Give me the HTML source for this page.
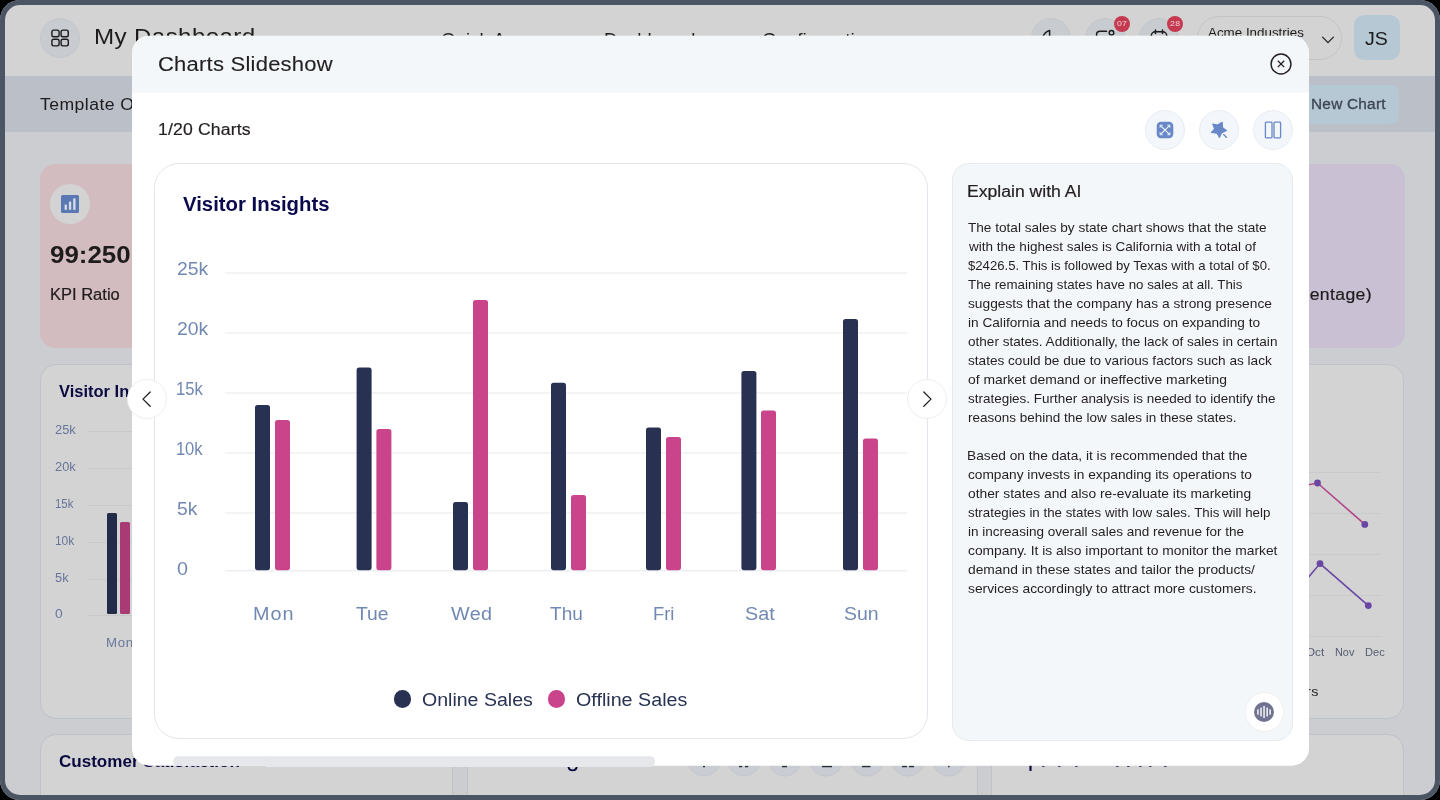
<!DOCTYPE html>
<html lang="en"><head><meta charset="utf-8"><title>Charts Slideshow</title>
<style>
html,body{margin:0;padding:0;background:#000;}
body{width:1440px;height:800px;overflow:hidden;position:relative;font-family:"Liberation Sans", sans-serif;}
#page{position:absolute;left:0;top:0;width:1440px;height:800px;overflow:hidden;background:#cbcdd1;will-change:transform;}
.b{position:absolute;display:block;}
.t{position:absolute;display:block;white-space:nowrap;line-height:1;transform-origin:0 0;font-family:"Liberation Sans", sans-serif;}
#bgclip{position:absolute;left:0;top:0;width:1440px;height:800px;overflow:hidden;}
#frame{position:absolute;left:0;top:0;width:1440px;height:800px;box-sizing:border-box;border:5px solid #4b5563;border-radius:20px;box-shadow:0 0 0 30px #000;pointer-events:none;}
</style></head>
<body>
<div id="page">
<div id="bgclip">
<div class="b" style="left:0px;top:0px;width:1440px;height:76px;background:#d3d3d3;"></div>
<div class="b" style="left:0px;top:76px;width:1440px;height:56px;background:#babfc8;"></div>
<div class="b" style="left:40px;top:18px;width:40px;height:40px;background:#c8ccd1;border-radius:20px;border:1px solid #c3c7cc;box-sizing:border-box;"></div>
<svg class="b" style="left:50px;top:28px" width="20" height="20" viewBox="0 0 20 20" fill="none" stroke="#1e1b1c" stroke-width="1.4"><rect x="1.9" y="2.1" width="7.2" height="6.6" rx="1.8"/><rect x="11.1" y="2.1" width="7.2" height="6.6" rx="1.8"/><rect x="1.9" y="11.3" width="7.2" height="6.6" rx="1.8"/><rect x="11.1" y="11.3" width="7.2" height="6.6" rx="1.8"/></svg>
<div class="b" style="left:1031px;top:18px;width:40px;height:40px;background:#c8ccd1;border-radius:20px;border:1px solid #c3c7cc;box-sizing:border-box;"></div>
<div class="b" style="left:1085px;top:18px;width:40px;height:40px;background:#c8ccd1;border-radius:20px;border:1px solid #c3c7cc;box-sizing:border-box;"></div>
<div class="b" style="left:1139px;top:18px;width:40px;height:40px;background:#c8ccd1;border-radius:20px;border:1px solid #c3c7cc;box-sizing:border-box;"></div>
<svg class="b" style="left:1031px;top:18px" width="40" height="40" viewBox="0 0 40 40" fill="none" stroke="#1e1b1c" stroke-width="1.5" stroke-linecap="round" stroke-linejoin="round"><path d="M11.5 19.5 C13 15.5 16 13 18.6 12.4 L18.6 26"/></svg>
<svg class="b" style="left:1085px;top:18px" width="40" height="40" viewBox="0 0 40 40" fill="none" stroke="#1e1b1c" stroke-width="1.5" stroke-linecap="round" stroke-linejoin="round"><path d="M21.5 13.2 H15 Q11.6 13.2 11.6 16.6 V24 Q11.6 27 15 27 H25 Q28.4 27 28.4 24 V20"/><circle cx="26.5" cy="14.7" r="2.3"/></svg>
<svg class="b" style="left:1139px;top:18px" width="40" height="40" viewBox="0 0 40 40" fill="none" stroke="#1e1b1c" stroke-width="1.5" stroke-linecap="round" stroke-linejoin="round"><rect x="12.3" y="13.8" width="15.4" height="14.5" rx="4"/><path d="M16.5 12 V15.6 M23.5 12 V15.6"/></svg>
<div class="b" style="left:1114px;top:16px;width:16px;height:16px;background:#c53a50;border-radius:8px;"></div>
<div class="b" style="left:1167px;top:16px;width:16px;height:16px;background:#c53a50;border-radius:8px;"></div>
<div class="b" style="left:1197px;top:16px;width:145px;height:44px;background:transparent;border-radius:22px;border:1px solid #c2c4c7;box-sizing:border-box;"></div>
<svg class="b" style="left:1320px;top:34px" width="16" height="12" viewBox="0 0 16 12" fill="none" stroke="#1e1b1c" stroke-width="1.2" stroke-linecap="round" stroke-linejoin="round"><path d="M2.6 3.2 L8 8.6 L13.4 3.2"/></svg>
<div class="b" style="left:1354px;top:15px;width:46px;height:45px;background:#b5c8d3;border-radius:10px;"></div>
<div class="b" style="left:1250px;top:85px;width:149px;height:39px;background:#b5c8d3;border-radius:8px;"></div>
<div class="b" style="left:40px;top:164px;width:300px;height:184px;background:#d3bcbf;border-radius:15px;"></div>
<div class="b" style="left:50px;top:184px;width:40px;height:40px;background:#d3d3d3;border-radius:20px;"></div>
<svg class="b" style="left:61px;top:195px" width="18" height="18" viewBox="0 0 18 18"><rect width="18" height="18" rx="1.6" fill="#5a78b4"/><rect x="3.6" y="9.6" width="2.3" height="5.2" fill="#d9dde6"/><rect x="7.9" y="6.6" width="2.3" height="8.2" fill="#d9dde6"/><rect x="12.2" y="3.4" width="2.3" height="11.4" fill="#d9dde6"/></svg>
<div class="b" style="left:1104px;top:164px;width:300.5px;height:184px;background:#c9c0d4;border-radius:15px;"></div>
<div class="b" style="left:40px;top:364px;width:413px;height:355px;background:#d3d3d3;border-radius:16px;border:1px solid #bec2c9;box-sizing:border-box;"></div>
<div class="b" style="left:991px;top:364px;width:413px;height:355px;background:#d3d3d3;border-radius:16px;border:1px solid #bec2c9;box-sizing:border-box;"></div>
<div class="b" style="left:40px;top:734px;width:413px;height:100px;background:#d3d3d3;border-radius:16px;border:1px solid #bec2c9;box-sizing:border-box;"></div>
<div class="b" style="left:466.5px;top:734px;width:511.5px;height:100px;background:#d3d3d3;border-radius:16px;border:1px solid #bec2c9;box-sizing:border-box;"></div>
<div class="b" style="left:991px;top:734px;width:413px;height:100px;background:#d3d3d3;border-radius:16px;border:1px solid #bec2c9;box-sizing:border-box;"></div>
<div class="b" style="left:87px;top:430.8px;width:60px;height:1px;background:#c6c8cb;"></div>
<div class="b" style="left:87px;top:467.8px;width:60px;height:1px;background:#c6c8cb;"></div>
<div class="b" style="left:87px;top:504.8px;width:60px;height:1px;background:#c6c8cb;"></div>
<div class="b" style="left:87px;top:541.8px;width:60px;height:1px;background:#c6c8cb;"></div>
<div class="b" style="left:87px;top:578.8px;width:60px;height:1px;background:#c6c8cb;"></div>
<div class="b" style="left:87px;top:614.7px;width:60px;height:1px;background:#c6c8cb;"></div>
<div class="b" style="left:107px;top:513px;width:10px;height:101.3px;background:#222b47;border-radius:1.5px;"></div>
<div class="b" style="left:120px;top:522px;width:10px;height:92.3px;background:#a83a76;border-radius:1.5px;"></div>
<svg class="b" style="left:1290px;top:440px" width="120" height="220" viewBox="1290 440 120 220" fill="none"><path d="M1290 472.5 H1381" stroke="#c9cacd" stroke-width="1"/><path d="M1290 513.5 H1381" stroke="#c9cacd" stroke-width="1"/><path d="M1290 554.5 H1381" stroke="#c9cacd" stroke-width="1"/><path d="M1290 595.5 H1381" stroke="#c9cacd" stroke-width="1"/><path d="M1290 636.5 H1381" stroke="#c9cacd" stroke-width="1"/><path d="M1290 488.5 L1317.5 483 L1364.8 524.4" stroke="#b04688" stroke-width="1.6"/><path d="M1296 592 L1320 563.6 L1368.3 605.6" stroke="#6a46a3" stroke-width="1.6"/><circle cx="1317.5" cy="483" r="3.4" fill="#6a46a3"/><circle cx="1364.8" cy="524.4" r="3.4" fill="#6a46a3"/><circle cx="1320" cy="563.6" r="3.4" fill="#6a46a3"/><circle cx="1368.3" cy="605.6" r="3.4" fill="#6a46a3"/></svg>
<svg class="b" style="left:686px;top:742px" width="36" height="36" viewBox="0 0 36 36"><circle cx="18" cy="17.75" r="16.4" fill="#c9ccd2" stroke="#c1c4ca" stroke-width="0.8"/></svg>
<svg class="b" style="left:726px;top:742px" width="36" height="36" viewBox="0 0 36 36"><circle cx="18" cy="17.75" r="16.4" fill="#c9ccd2" stroke="#c1c4ca" stroke-width="0.8"/></svg>
<svg class="b" style="left:766.8px;top:742px" width="36" height="36" viewBox="0 0 36 36"><circle cx="18" cy="17.75" r="16.4" fill="#c9ccd2" stroke="#c1c4ca" stroke-width="0.8"/></svg>
<svg class="b" style="left:807.8px;top:742px" width="36" height="36" viewBox="0 0 36 36"><circle cx="18" cy="17.75" r="16.4" fill="#c9ccd2" stroke="#c1c4ca" stroke-width="0.8"/></svg>
<svg class="b" style="left:848.9px;top:742px" width="36" height="36" viewBox="0 0 36 36"><circle cx="18" cy="17.75" r="16.4" fill="#c9ccd2" stroke="#c1c4ca" stroke-width="0.8"/></svg>
<svg class="b" style="left:889.7px;top:742px" width="36" height="36" viewBox="0 0 36 36"><circle cx="18" cy="17.75" r="16.4" fill="#c9ccd2" stroke="#c1c4ca" stroke-width="0.8"/></svg>
<svg class="b" style="left:930.75px;top:742px" width="36" height="36" viewBox="0 0 36 36"><circle cx="18" cy="17.75" r="16.4" fill="#c9ccd2" stroke="#c1c4ca" stroke-width="0.8"/></svg>
<svg class="b" style="left:703px;top:765px" width="3" height="3" viewBox="0 0 3 3"><rect x="0" y="0.6" width="2" height="1.7" rx="0.5" fill="#2b2b38"/></svg>
<svg class="b" style="left:738.5px;top:765px" width="4.2" height="3" viewBox="0 0 4.2 3"><rect x="0" y="0.6" width="3.2" height="1.7" rx="0.5" fill="#2b2b38"/></svg>
<svg class="b" style="left:744.6px;top:765px" width="4.2" height="3" viewBox="0 0 4.2 3"><rect x="0" y="0.6" width="3.2" height="1.7" rx="0.5" fill="#2b2b38"/></svg>
<svg class="b" style="left:781.5px;top:765px" width="6" height="3" viewBox="0 0 6 3"><rect x="0" y="0.6" width="5" height="1.7" rx="0.5" fill="#2b2b38"/></svg>
<svg class="b" style="left:821.5px;top:765px" width="11" height="3" viewBox="0 0 11 3"><rect x="0" y="0.6" width="10" height="1.7" rx="0.5" fill="#2b2b38"/></svg>
<svg class="b" style="left:862px;top:765px" width="9.5" height="3" viewBox="0 0 9.5 3"><rect x="0" y="0.6" width="8.5" height="1.7" rx="0.5" fill="#2b2b38"/></svg>
<svg class="b" style="left:902px;top:765px" width="6" height="3" viewBox="0 0 6 3"><rect x="0" y="0.6" width="5" height="1.7" rx="0.5" fill="#2b2b38"/></svg>
<svg class="b" style="left:908.5px;top:765px" width="6" height="3" viewBox="0 0 6 3"><rect x="0" y="0.6" width="5" height="1.7" rx="0.5" fill="#2b2b38"/></svg>
<svg class="b" style="left:948.2px;top:765px" width="2.6" height="3" viewBox="0 0 2.6 3"><rect x="0" y="0.6" width="1.6" height="1.7" rx="0.5" fill="#2b2b38"/></svg>
<svg class="b" style="left:565px;top:764px" width="16" height="10" viewBox="565 764 16 10" fill="none" stroke="#0a0940" stroke-width="1.9" stroke-linecap="round"><path d="M568.4 766.6 Q569 770.4 572.6 770.4 Q576.4 770.4 576.8 766.4"/></svg>
<svg class="b" style="left:1027px;top:764px" width="8" height="10" viewBox="1027 764 8 10"><rect x="1029.4" y="764" width="2.2" height="6.9" fill="#0a0940"/></svg>
<svg class="b" style="left:502.4px;top:765px" width="5" height="3" viewBox="0 0 5 3"><rect x="1" y="1.1" width="2.6" height="1" rx="0.5" fill="#0a0940" opacity="0.75"/></svg>
<svg class="b" style="left:521.8px;top:765px" width="5" height="3" viewBox="0 0 5 3"><rect x="1" y="1.1" width="2.6" height="1" rx="0.5" fill="#0a0940" opacity="0.75"/></svg>
<svg class="b" style="left:556px;top:765px" width="5" height="3" viewBox="0 0 5 3"><rect x="1" y="1.1" width="2.6" height="1" rx="0.5" fill="#0a0940" opacity="0.75"/></svg>
<svg class="b" style="left:596.8px;top:765px" width="5" height="3" viewBox="0 0 5 3"><rect x="1" y="1.1" width="2.6" height="1" rx="0.5" fill="#0a0940" opacity="0.75"/></svg>
<svg class="b" style="left:1041px;top:765px" width="5" height="3" viewBox="0 0 5 3"><rect x="1" y="1.1" width="2.6" height="1" rx="0.5" fill="#0a0940" opacity="0.75"/></svg>
<svg class="b" style="left:1056.5px;top:765px" width="5" height="3" viewBox="0 0 5 3"><rect x="1" y="1.1" width="2.6" height="1" rx="0.5" fill="#0a0940" opacity="0.75"/></svg>
<svg class="b" style="left:1073.5px;top:765px" width="5" height="3" viewBox="0 0 5 3"><rect x="1" y="1.1" width="2.6" height="1" rx="0.5" fill="#0a0940" opacity="0.75"/></svg>
<svg class="b" style="left:1115px;top:765px" width="5" height="3" viewBox="0 0 5 3"><rect x="1" y="1.1" width="2.6" height="1" rx="0.5" fill="#0a0940" opacity="0.75"/></svg>
<svg class="b" style="left:1126px;top:765px" width="5" height="3" viewBox="0 0 5 3"><rect x="1" y="1.1" width="2.6" height="1" rx="0.5" fill="#0a0940" opacity="0.75"/></svg>
<svg class="b" style="left:1137.5px;top:765px" width="5" height="3" viewBox="0 0 5 3"><rect x="1" y="1.1" width="2.6" height="1" rx="0.5" fill="#0a0940" opacity="0.75"/></svg>
<svg class="b" style="left:1147.5px;top:765px" width="5" height="3" viewBox="0 0 5 3"><rect x="1" y="1.1" width="2.6" height="1" rx="0.5" fill="#0a0940" opacity="0.75"/></svg>
<svg class="b" style="left:1162.5px;top:765px" width="5" height="3" viewBox="0 0 5 3"><rect x="1" y="1.1" width="2.6" height="1" rx="0.5" fill="#0a0940" opacity="0.75"/></svg>
<span class="t" style="left:94.18px;top:26px;font-size:22px;color:#1e1b1c;transform:scaleX(1.1000);letter-spacing:0.313px;">My Dashboard</span>
<span class="t" style="left:441.41px;top:32px;font-size:17.5px;color:#1e1b1c;transform:scaleX(1.0718);">Quick Access</span>
<span class="t" style="left:604.00px;top:32px;font-size:17.5px;color:#1e1b1c;transform:scaleX(1.0663);">Dashboard</span>
<span class="t" style="left:762.09px;top:32px;font-size:17.5px;color:#1e1b1c;transform:scaleX(1.0962);">Configuration</span>
<span class="t" style="left:1207.80px;top:26px;font-size:13px;color:#1e1b1c;transform:scaleX(1.0287);">Acme Industries</span>
<span class="t" style="left:1365.46px;top:29px;font-size:19px;color:#1e1b1c;transform:scaleX(1.0333);">JS</span>
<span class="t" style="left:1116.93px;top:20px;font-size:8px;color:#ecd0d5;transform:scaleX(1.1000);letter-spacing:0.197px;">07</span>
<span class="t" style="left:1170.03px;top:20px;font-size:8px;color:#ecd0d5;transform:scaleX(1.1000);letter-spacing:0.379px;">28</span>
<span class="t" style="left:40.13px;top:97px;font-size:16px;color:#1e1b1c;transform:scaleX(1.1000);letter-spacing:0.401px;">Template O</span>
<span class="t" style="left:1311.22px;top:97px;font-size:14px;color:#3c4656;transform:scaleX(1.1000);letter-spacing:0.203px;-webkit-text-stroke:0.3px #3c4656;">New Chart</span>
<span class="t" style="left:50.35px;top:243px;font-size:24px;color:#1e1b1c;transform:scaleX(1.0788);font-weight:700;">99:250</span>
<span class="t" style="left:49.62px;top:287px;font-size:16px;color:#1e1b1c;transform:scaleX(1.0317);-webkit-text-stroke:0.2px #1e1b1c;">KPI Ratio</span>
<span class="t" style="left:1271.53px;top:287px;font-size:16px;color:#1e1b1c;transform:scaleX(1.1000);letter-spacing:0.335px;-webkit-text-stroke:0.2px #1e1b1c;">Percentage)</span>
<span class="t" style="left:59.33px;top:384px;font-size:16px;color:#0a0940;transform:scaleX(1.0306);font-weight:700;">Visitor Insights</span>
<span class="t" style="left:55.04px;top:424px;font-size:12px;color:#66759a;transform:scaleX(1.0714);">25k</span>
<span class="t" style="left:55.04px;top:461px;font-size:12px;color:#66759a;transform:scaleX(1.0714);">20k</span>
<span class="t" style="left:54.96px;top:498px;font-size:12px;color:#66759a;transform:scaleX(0.9459);">15k</span>
<span class="t" style="left:54.92px;top:535px;font-size:12px;color:#66759a;transform:scaleX(1.0000);">10k</span>
<span class="t" style="left:55.22px;top:572px;font-size:12px;color:#66759a;transform:scaleX(1.0685);">5k</span>
<span class="t" style="left:55.18px;top:608px;font-size:12px;color:#66759a;transform:scaleX(1.1471);">0</span>
<span class="t" style="left:105.65px;top:637px;font-size:12px;color:#66759a;transform:scaleX(1.1000);letter-spacing:0.614px;">Mon</span>
<span class="t" style="left:1305.97px;top:647px;font-size:11px;color:#545d72;transform:scaleX(1.0606);">Oct</span>
<span class="t" style="left:1335.17px;top:647px;font-size:11px;color:#545d72;transform:scaleX(0.9911);">Nov</span>
<span class="t" style="left:1364.66px;top:647px;font-size:11px;color:#545d72;transform:scaleX(1.0091);">Dec</span>
<span class="t" style="left:1247.27px;top:685px;font-size:13px;color:#1e1b1c;transform:scaleX(1.1000);letter-spacing:0.246px;">Customers</span>
<span class="t" style="left:58.69px;top:754px;font-size:16px;color:#0a0940;transform:scaleX(1.0650);font-weight:700;">Customer Satisfaction</span>
</div>
<div id="modal">
<div class="b" style="left:132px;top:35px;width:1177px;height:730px;background:#fff;border-radius:17.5px;overflow:hidden;transform:translateY(0.7px)"><div style="position:absolute;left:0;top:0;width:100%;height:57.3px;background:#f4f7fa"></div></div>
<svg class="b" style="left:170px;top:754px" width="490" height="15" viewBox="170 754 490 15"><path d="M178.3 756.2 H270 V765.7 H175.05 A5 5 0 0 1 173.3 761.9 V761.2 A5 5 0 0 1 178.3 756.2 Z" fill="#e5e7eb"/><path d="M266 756.2 H650 Q655 756.2 655 761.2 V761.9 Q655 766.9 650 766.9 H266 Z" fill="#e5e7eb"/></svg>
<svg class="b" style="left:1268px;top:51px" width="26" height="26" viewBox="0 0 26 26" fill="none" stroke="#231f20"><circle cx="13" cy="13" r="9.95" stroke-width="1.45"/><path d="M9.8 9.7 L16.2 16.1 M16.2 9.7 L9.8 16.1" stroke-width="1.3"/></svg>
<div class="b" style="left:1145px;top:110px;width:40px;height:40px;background:#f3f6fa;border-radius:20px;border:1px solid #e9edf3;box-sizing:border-box;"></div>
<div class="b" style="left:1199px;top:110px;width:40px;height:40px;background:#f3f6fa;border-radius:20px;border:1px solid #e9edf3;box-sizing:border-box;"></div>
<div class="b" style="left:1253px;top:110px;width:40px;height:40px;background:#f3f6fa;border-radius:20px;border:1px solid #e9edf3;box-sizing:border-box;"></div>
<svg class="b" style="left:1155px;top:120px" width="20" height="20" viewBox="0 0 20 20"><rect x="1.7" y="1.7" width="16.6" height="16.6" rx="4.2" fill="#6888c8"/><g stroke="#f3f6fa" stroke-width="1.15" stroke-linecap="round" fill="none"><path d="M5.8 5.8 L14.2 14.2 M14.2 5.8 L5.8 14.2"/></g><g fill="#e6ecf7" stroke="#e6ecf7" stroke-width="0.5" stroke-linejoin="round" opacity="0.85"><path d="M4.9 4.9 H7.7 L4.9 7.7 Z"/><path d="M15.1 4.9 V7.7 L12.3 4.9 Z"/><path d="M15.1 15.1 H12.3 L15.1 12.3 Z"/><path d="M4.9 15.1 V12.3 L7.7 15.1 Z"/></g></svg>
<svg class="b" style="left:1209px;top:120px" width="20" height="20" viewBox="0 0 20 20"><path d="M13.15 2.39 L13.58 7.79 L17.35 10.53 L12.37 12.97 L10.53 17.35 L8.12 13.17 L2.41 12.39 L5.74 9.02 L3.80 3.98 L8.69 4.98 Z" fill="#6888c8" stroke="#6888c8" stroke-width="1.2" stroke-linejoin="round"/><path d="M14.6 14.6 L17.6 17.4" stroke="#6888c8" stroke-width="1.3" stroke-linecap="round"/></svg>
<svg class="b" style="left:1263px;top:120px" width="20" height="20" viewBox="0 0 20 20" fill="none" stroke="#6888c8" stroke-width="1.3"><rect x="2.4" y="2.2" width="6.6" height="15.6" rx="0.8"/><rect x="11" y="2.2" width="6.6" height="15.6" rx="0.8"/></svg>
<div class="b" style="left:154px;top:163px;width:774px;height:576px;background:#fff;border-radius:25px;border:1px solid #e3e5ec;box-sizing:border-box;"></div>
<svg class="b" style="left:160px;top:250px" width="760" height="340" viewBox="160 250 760 340"><rect x="225" y="272.3" width="682" height="1.4" fill="#edeff3"/><rect x="225" y="332.3" width="682" height="1.4" fill="#edeff3"/><rect x="225" y="392.3" width="682" height="1.4" fill="#edeff3"/><rect x="225" y="452.3" width="682" height="1.4" fill="#edeff3"/><rect x="225" y="512.3" width="682" height="1.4" fill="#edeff3"/><rect x="225" y="569.9" width="682" height="1.5" fill="#eceef2"/><rect x="255" y="405" width="15" height="165.2" rx="2.6" fill="#283151"/><rect x="275" y="420" width="15" height="150.2" rx="2.6" fill="#ca448c"/><rect x="356.6" y="367.4" width="15" height="202.8" rx="2.6" fill="#283151"/><rect x="376.4" y="429" width="15" height="141.2" rx="2.6" fill="#ca448c"/><rect x="453" y="502" width="15" height="68.2" rx="2.6" fill="#283151"/><rect x="473" y="300" width="15" height="270.2" rx="2.6" fill="#ca448c"/><rect x="551" y="382.8" width="15" height="187.4" rx="2.6" fill="#283151"/><rect x="571" y="495" width="15" height="75.2" rx="2.6" fill="#ca448c"/><rect x="646" y="427.4" width="15" height="142.8" rx="2.6" fill="#283151"/><rect x="666" y="437" width="15" height="133.2" rx="2.6" fill="#ca448c"/><rect x="741.4" y="371" width="15" height="199.2" rx="2.6" fill="#283151"/><rect x="761" y="410.4" width="15" height="159.8" rx="2.6" fill="#ca448c"/><rect x="843" y="319" width="15" height="251.2" rx="2.6" fill="#283151"/><rect x="863" y="438.6" width="15" height="131.6" rx="2.6" fill="#ca448c"/></svg>
<div class="b" style="left:394.4px;top:690.2px;width:16.8px;height:18px;background:#283151;border-radius:9px;"></div>
<div class="b" style="left:548.3px;top:690.2px;width:16.8px;height:18px;background:#ca448c;border-radius:9px;"></div>
<div class="b" style="left:127px;top:379px;width:40px;height:40px;background:#fff;border-radius:20px;border:1px solid #eeeeee;box-sizing:border-box;"></div>
<div class="b" style="left:907px;top:379px;width:40px;height:40px;background:#fff;border-radius:20px;border:1px solid #eeeeee;box-sizing:border-box;"></div>
<svg class="b" style="left:137px;top:389px" width="20" height="20" viewBox="0 0 20 20" fill="none" stroke="#231f20" stroke-width="1.3" stroke-linecap="round" stroke-linejoin="round"><path d="M13.2 3 L6 10.1 L13.2 17.2"/></svg>
<svg class="b" style="left:917px;top:389px" width="20" height="20" viewBox="0 0 20 20" fill="none" stroke="#231f20" stroke-width="1.3" stroke-linecap="round" stroke-linejoin="round"><path d="M6.8 3 L14 10.1 L6.8 17.2"/></svg>
<div class="b" style="left:952px;top:163px;width:341px;height:578px;background:#f4f7fa;border-radius:17px;border:1px solid #e6eaf0;box-sizing:border-box;"></div>
<div class="b" style="left:1244.5px;top:692px;width:39px;height:39.5px;background:#fff;border-radius:20px;border:1px solid #eceef2;box-sizing:border-box;"></div>
<svg class="b" style="left:1254px;top:701.8px" width="20" height="20" viewBox="0 0 20 20"><circle cx="10" cy="10" r="10" fill="#707292"/><g fill="#e6e6ee"><rect x="3.1" y="7.3" width="1.7" height="5.4"/><rect x="6.2" y="5.6" width="1.7" height="8.8"/><rect x="9.2" y="4" width="1.7" height="12"/><rect x="12.3" y="5.6" width="1.7" height="8.8"/><rect x="15.3" y="7.3" width="1.7" height="5.4"/></g></svg>
<span class="t" style="left:158.10px;top:54px;font-size:20px;color:#231f20;transform:scaleX(1.1000);letter-spacing:0.210px;-webkit-text-stroke:0.12px #231f20;">Charts Slideshow</span>
<span class="t" style="left:158.12px;top:122px;font-size:16px;color:#231f20;transform:scaleX(1.1000);letter-spacing:0.145px;-webkit-text-stroke:0.2px #231f20;">1/20 Charts</span>
<span class="t" style="left:183.13px;top:194px;font-size:20px;color:#0b0a4d;transform:scaleX(1.0170);font-weight:700;">Visitor Insights</span>
<span class="t" style="left:176.80px;top:260px;font-size:18px;color:#7189b2;transform:scaleX(1.0793);">25k</span>
<span class="t" style="left:176.80px;top:320px;font-size:18px;color:#7189b2;transform:scaleX(1.0793);">20k</span>
<span class="t" style="left:176.47px;top:380px;font-size:18px;color:#7189b2;transform:scaleX(0.9217);">15k</span>
<span class="t" style="left:176.47px;top:440px;font-size:18px;color:#7189b2;transform:scaleX(0.9200);letter-spacing:-0.138px;">10k</span>
<span class="t" style="left:176.81px;top:500px;font-size:18px;color:#7189b2;transform:scaleX(1.0734);">5k</span>
<span class="t" style="left:176.97px;top:560px;font-size:18px;color:#7189b2;transform:scaleX(1.0962);">0</span>
<span class="t" style="left:253.35px;top:605px;font-size:18px;color:#7189b2;transform:scaleX(1.1000);letter-spacing:0.879px;">Mon</span>
<span class="t" style="left:355.89px;top:605px;font-size:18px;color:#7189b2;transform:scaleX(1.0714);">Tue</span>
<span class="t" style="left:451.07px;top:605px;font-size:18px;color:#7189b2;transform:scaleX(1.1000);letter-spacing:0.288px;">Wed</span>
<span class="t" style="left:549.65px;top:605px;font-size:18px;color:#7189b2;transform:scaleX(1.0593);">Thu</span>
<span class="t" style="left:652.72px;top:605px;font-size:18px;color:#7189b2;transform:scaleX(1.0227);">Fri</span>
<span class="t" style="left:744.84px;top:605px;font-size:18px;color:#7189b2;transform:scaleX(1.0962);">Sat</span>
<span class="t" style="left:843.60px;top:605px;font-size:18px;color:#7189b2;transform:scaleX(1.0833);">Sun</span>
<span class="t" style="left:421.80px;top:691px;font-size:18px;color:#283252;transform:scaleX(1.0856);">Online Sales</span>
<span class="t" style="left:576.19px;top:691px;font-size:18px;color:#283252;transform:scaleX(1.0942);">Offline Sales</span>
<span class="t" style="left:967.43px;top:184px;font-size:16px;color:#231f20;transform:scaleX(1.0992);-webkit-text-stroke:0.2px #231f20;">Explain with AI</span>
<span class="t" style="left:968.15px;top:221px;font-size:13px;color:#231f20;transform:scaleX(1.0464);">The total sales by state chart shows that the state</span>
<span class="t" style="left:968.50px;top:240px;font-size:13px;color:#231f20;transform:scaleX(1.0402);">with the highest sales is California with a total of</span>
<span class="t" style="left:968.33px;top:259px;font-size:13px;color:#231f20;transform:scaleX(1.0107);">$2426.5. This is followed by Texas with a total of $0.</span>
<span class="t" style="left:968.16px;top:278px;font-size:13px;color:#231f20;transform:scaleX(1.0246);">The remaining states have no sales at all. This</span>
<span class="t" style="left:968.15px;top:297px;font-size:13px;color:#231f20;transform:scaleX(1.0566);">suggests that the company has a strong presence</span>
<span class="t" style="left:967.63px;top:316px;font-size:13px;color:#231f20;transform:scaleX(1.0497);">in California and needs to focus on expanding to</span>
<span class="t" style="left:967.98px;top:335px;font-size:13px;color:#231f20;transform:scaleX(1.0427);">other states. Additionally, the lack of sales in certain</span>
<span class="t" style="left:968.15px;top:354px;font-size:13px;color:#231f20;transform:scaleX(1.0456);">states could be due to various factors such as lack</span>
<span class="t" style="left:967.97px;top:373px;font-size:13px;color:#231f20;transform:scaleX(1.0681);">of market demand or ineffective marketing</span>
<span class="t" style="left:968.16px;top:392px;font-size:13px;color:#231f20;transform:scaleX(1.0349);">strategies. Further analysis is needed to identify the</span>
<span class="t" style="left:967.64px;top:411px;font-size:13px;color:#231f20;transform:scaleX(1.0375);">reasons behind the low sales in these states.</span>
<span class="t" style="left:967.45px;top:449px;font-size:13px;color:#231f20;transform:scaleX(1.0547);">Based on the data, it is recommended that the</span>
<span class="t" style="left:967.97px;top:468px;font-size:13px;color:#231f20;transform:scaleX(1.0533);">company invests in expanding its operations to</span>
<span class="t" style="left:967.97px;top:487px;font-size:13px;color:#231f20;transform:scaleX(1.0617);">other states and also re-evaluate its marketing</span>
<span class="t" style="left:968.16px;top:506px;font-size:13px;color:#231f20;transform:scaleX(1.0239);">strategies in the states with low sales. This will help</span>
<span class="t" style="left:967.63px;top:525px;font-size:13px;color:#231f20;transform:scaleX(1.0408);">in increasing overall sales and revenue for the</span>
<span class="t" style="left:967.97px;top:544px;font-size:13px;color:#231f20;transform:scaleX(1.0636);">company. It is also important to monitor the market</span>
<span class="t" style="left:967.97px;top:563px;font-size:13px;color:#231f20;transform:scaleX(1.0614);">demand in these states and tailor the products/</span>
<span class="t" style="left:968.15px;top:582px;font-size:13px;color:#231f20;transform:scaleX(1.0619);">services accordingly to attract more customers.</span>
</div>
</div>
<div id="frame"></div>
</body></html>
